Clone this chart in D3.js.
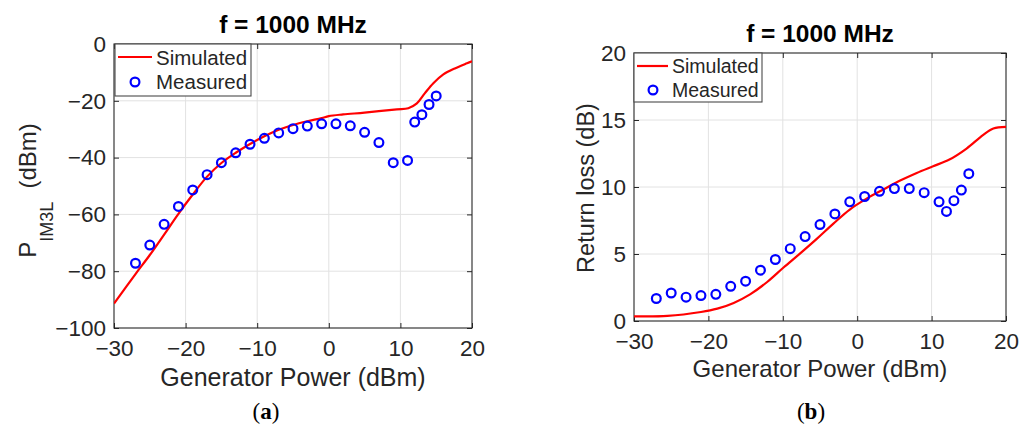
<!DOCTYPE html>
<html>
<head>
<meta charset="utf-8">
<script src="https://cdn.jsdelivr.net/npm/d3@7"></script>
<style>
  html, body { margin: 0; padding: 0; background: #fff; }
  svg { display: block; }
  .sans { font-family: "Liberation Sans", Arial, sans-serif; }
  .serif { font-family: "Liberation Serif", "DejaVu Serif", serif; }
</style>
</head>
<body>
<svg id="chart" width="1031" height="426"></svg>
<script>
// ---------- data ----------
const xTicks = [-30, -20, -10, 0, 10, 20];
const yTicksA = [-100, -80, -60, -40, -20, 0];
const yTicksB = [0, 5, 10, 15, 20];

// (a) P_IM3L
const measA_x = [-27, -25, -23, -21, -19, -17, -15, -13, -11, -9, -7, -5, -3, -1, 1, 3, 5, 7, 9, 11, 12, 13, 14, 15];
const measA_y = [-77.2, -70.8, -63.5, -57.2, -51.4, -46.0, -41.8, -38.3, -35.3, -33.2, -31.3, -29.8, -28.9, -28.1, -28.1, -28.8, -31.1, -34.7, -41.8, -41.0, -27.5, -24.9, -21.3, -18.3];
const simA_x = [-30, -27, -25, -23, -21, -19, -17, -15, -13, -11, -9, -7, -5, -3, -1, 0, 2, 5, 9.5, 11.1, 12.3, 13.4, 14.6, 16, 17.6, 19.3, 20];
const simA_y = [-91.4, -81.0, -74.3, -67.1, -59.8, -53.0, -46.7, -41.9, -38.3, -35.2, -32.5, -30.2, -28.5, -27.2, -26.1, -25.4, -24.8, -24.15, -23.0, -22.6, -20.9, -17.4, -13.8, -10.7, -8.6, -6.8, -6.1];

// (b) Return loss
const measB_x = [-27, -25, -23, -21, -19, -17, -15, -13, -11, -9, -7, -5, -3, -1, 1, 3, 5, 7, 9, 11, 12, 13, 14, 15];
const measB_y = [1.68, 2.09, 1.78, 1.9, 1.99, 2.59, 2.97, 3.79, 4.59, 5.4, 6.3, 7.2, 7.99, 8.89, 9.29, 9.68, 9.88, 9.88, 9.58, 8.89, 8.18, 8.98, 9.77, 10.99];
const simB_x = [-30, -25.5, -21, -18.8, -16.6, -14.4, -12.1, -9.9, -7.7, -5.4, -3.2, -1, 1.3, 3.5, 5.7, 8, 10.2, 12.4, 14.7, 16.9, 18.3, 20];
const simB_y = [0.35, 0.38, 0.67, 0.92, 1.35, 1.99, 2.91, 3.99, 5.03, 6.15, 7.27, 8.32, 9.14, 9.81, 10.46, 11.05, 11.55, 12.05, 12.87, 13.87, 14.37, 14.49];

const titleText = "f = 1000 MHz";
const xLabelText = "Generator Power (dBm)";
const legendLabels = ["Simulated", "Measured"];

// ---------- drawing ----------
const svg = d3.select("#chart");
const ink = "#262626";

function panel(cfg) {
  const g = svg.append("g").attr("class", "sans");
  const x = d3.scaleLinear().domain([-30, 20]).range([cfg.left, cfg.right]);
  const y = d3.scaleLinear().domain(cfg.yDomain).range([cfg.bottom, cfg.top]);

  // grid
  g.append("g").selectAll("line").data(xTicks.slice(1, -1)).join("line")
    .attr("x1", d => x(d)).attr("x2", d => x(d))
    .attr("y1", cfg.top).attr("y2", cfg.bottom)
    .attr("stroke", "#e2e2e2").attr("stroke-width", 1);
  g.append("g").selectAll("line").data(cfg.yTicks.slice(1, -1)).join("line")
    .attr("y1", d => y(d)).attr("y2", d => y(d))
    .attr("x1", cfg.left).attr("x2", cfg.right)
    .attr("stroke", "#e2e2e2").attr("stroke-width", 1);

  // axes
  const fs = cfg.tickFont;
  const ax = g.append("g").attr("transform", `translate(0,${cfg.bottom})`)
    .call(d3.axisBottom(x).tickValues(xTicks).tickSizeInner(-5).tickSizeOuter(0).tickPadding(28 - 0.71 * fs));
  const ay = g.append("g").attr("transform", `translate(${cfg.left},0)`)
    .call(d3.axisLeft(y).tickValues(cfg.yTicks).tickSizeInner(-5).tickSizeOuter(0).tickPadding(8));
  const at = g.append("g").attr("transform", `translate(0,${cfg.top})`)
    .call(d3.axisTop(x).tickValues(xTicks).tickSizeInner(-5).tickSizeOuter(0).tickFormat(""));
  const ar = g.append("g").attr("transform", `translate(${cfg.right},0)`)
    .call(d3.axisRight(y).tickValues(cfg.yTicks).tickSizeInner(-5).tickSizeOuter(0).tickFormat(""));
  [ax, ay, at, ar].forEach(a => {
    a.attr("font-family", null).attr("font-size", null);
    a.select(".domain").remove();
    a.selectAll("line").attr("stroke", ink).attr("stroke-width", 1);
    a.selectAll("text").attr("font-size", fs).attr("fill", ink);
  });

  // box
  g.append("rect").attr("x", cfg.left).attr("y", cfg.top)
    .attr("width", cfg.right - cfg.left).attr("height", cfg.bottom - cfg.top)
    .attr("fill", "none").attr("stroke", ink).attr("stroke-width", 1.1);

  // clip
  const cid = "clip" + cfg.id;
  svg.append("clipPath").attr("id", cid).append("rect")
    .attr("x", cfg.left).attr("y", cfg.top)
    .attr("width", cfg.right - cfg.left).attr("height", cfg.bottom - cfg.top);

  // simulated line
  const simPts = cfg.simX.map((d, i) => [d, cfg.simY[i]]);
  g.append("path").datum(simPts)
    .attr("clip-path", `url(#${cid})`)
    .attr("fill", "none").attr("stroke", "#ff0000").attr("stroke-width", 2.2)
    .attr("d", d3.line().x(d => x(d[0])).y(d => y(d[1])).curve(d3.curveCatmullRom.alpha(0.5)));

  // measured points
  const mPts = cfg.measX.map((d, i) => [d, cfg.measY[i]]);
  g.append("g").selectAll("circle").data(mPts).join("circle")
    .attr("cx", d => x(d[0])).attr("cy", d => y(d[1])).attr("r", 4.4)
    .attr("fill", "none").attr("stroke", "#0000ff").attr("stroke-width", 2.2);

  // legend
  const L = cfg.legend;
  g.append("rect").attr("x", L.x0).attr("y", L.y0)
    .attr("width", L.x1 - L.x0).attr("height", L.y1 - L.y0)
    .attr("fill", "#fff").attr("stroke", "#4a4a4a").attr("stroke-width", 1.1);
  g.append("line").attr("x1", L.lx0).attr("x2", L.lx1).attr("y1", L.ly).attr("y2", L.ly)
    .attr("stroke", "#ff0000").attr("stroke-width", 2.2);
  g.append("circle").attr("cx", L.mx).attr("cy", L.my).attr("r", 4.4)
    .attr("fill", "none").attr("stroke", "#0000ff").attr("stroke-width", 2.2);
  g.append("text").attr("x", L.tx).attr("y", L.t1y).attr("font-size", L.fs).attr("fill", ink).text(legendLabels[0]);
  g.append("text").attr("x", L.tx).attr("y", L.t2y).attr("font-size", L.fs).attr("fill", ink).text(legendLabels[1]);

  // title
  g.append("text").attr("x", (cfg.left + cfg.right) / 2).attr("y", cfg.titleY)
    .attr("text-anchor", "middle").attr("font-size", 24.5).attr("font-weight", "bold")
    .attr("fill", "#000").text(titleText);

  // x label
  g.append("text").attr("x", (cfg.left + cfg.right) / 2).attr("y", cfg.xLabelY)
    .attr("text-anchor", "middle").attr("font-size", cfg.labelFont).attr("fill", ink).text(xLabelText);

  // sub-caption
  const cap = svg.append("text").attr("class", "serif").attr("x", cfg.capX).attr("y", cfg.capY)
    .attr("text-anchor", "middle").attr("font-size", 23).attr("fill", "#000");
  cap.append("tspan").text("(");
  cap.append("tspan").attr("font-weight", "bold").text(cfg.capLetter);
  cap.append("tspan").text(")");

  return { g, x, y };
}

const pA = panel({
  id: "A", left: 114, right: 472, top: 44, bottom: 328,
  yDomain: [-100, 0], yTicks: yTicksA, tickFont: 22.5, labelFont: 25,
  simX: simA_x, simY: simA_y, measX: measA_x, measY: measA_y,
  legend: { x0: 115, y0: 44, x1: 251, y1: 96, lx0: 118, lx1: 152, ly: 57, mx: 135, my: 82, tx: 156, t1y: 64.5, t2y: 89, fs: 20.5 },
  titleY: 33, xLabelY: 386, capX: 266, capY: 419, capLetter: "a"
});

const pB = panel({
  id: "B", left: 634, right: 1006, top: 53, bottom: 321,
  yDomain: [0, 20], yTicks: yTicksB, tickFont: 22.5, labelFont: 24,
  simX: simB_x, simY: simB_y, measX: measB_x, measY: measB_y,
  legend: { x0: 634, y0: 53, x1: 762, y1: 102, lx0: 637, lx1: 668, ly: 66, mx: 653, my: 90, tx: 672, t1y: 73, t2y: 97, fs: 19.5 },
  titleY: 42, xLabelY: 377, capX: 811, capY: 419, capLetter: "b"
});

// y label (a): P with subscript IM3L
const ylA = svg.append("text").attr("class", "sans").attr("fill", ink)
  .attr("transform", "translate(36,190.5) rotate(-90)")
  .attr("text-anchor", "middle").attr("font-size", 24);
ylA.append("tspan").text("P");
ylA.append("tspan").attr("font-size", 18).attr("dy", 17).text("IM3L");
ylA.append("tspan").attr("dy", -17).text("\u00a0 (dBm)");

// y label (b)
svg.append("text").attr("class", "sans").attr("fill", ink)
  .attr("transform", "translate(594,188) rotate(-90)")
  .attr("text-anchor", "middle").attr("font-size", 23.5).text("Return loss (dB)");
</script>
</body>
</html>
